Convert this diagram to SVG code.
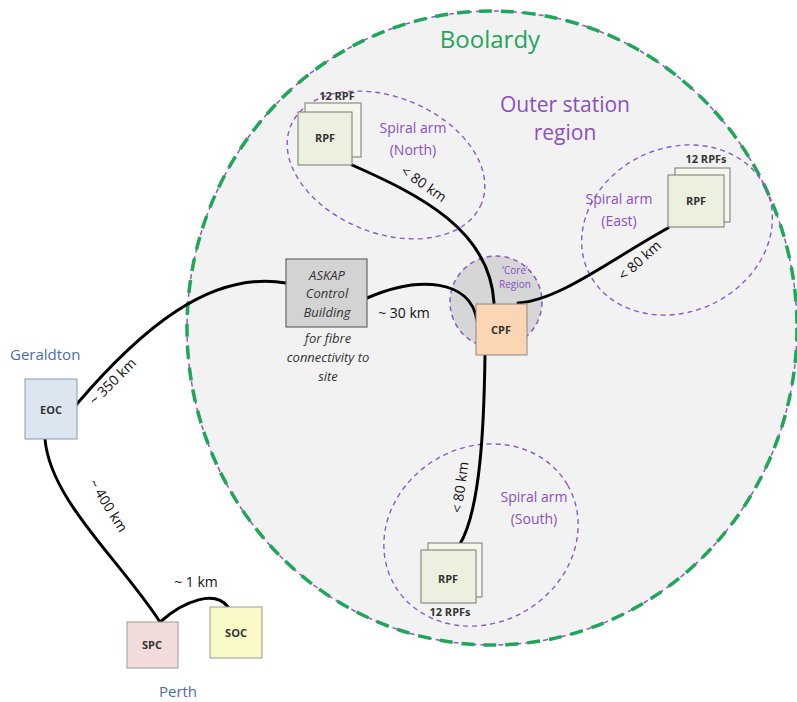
<svg xmlns="http://www.w3.org/2000/svg" width="797" height="702" viewBox="0 0 797 702">
  <style>
    .lbl { font-family: "Liberation Sans", "Open Sans", sans-serif; fill: #222; }
    .box-t { font-family: "Open Sans", "Liberation Sans", sans-serif; font-size: 11px; font-weight: bold; fill: #333; text-anchor: middle; }
    .arm { fill: none; stroke: #8a5cc0; stroke-width: 1.4; stroke-dasharray: 5 4; }
    .purple { font-family: "Open Sans", "Liberation Sans", sans-serif; fill: #8a4fc0; text-anchor: middle; }
    .link { fill: none; stroke: #000; stroke-width: 3; stroke-linecap: round; }
    .dist { font-family: "Open Sans", "Liberation Sans", sans-serif; font-size: 14px; fill: #111; text-anchor: middle; }
    .rpf-back { fill: #f4f6ea; stroke: #777; stroke-width: 1; }
    .rpf-front { fill: #ebf1de; stroke: #777; stroke-width: 1; }
    .city { font-family: "Open Sans", "Liberation Sans", sans-serif; font-size: 15px; fill: #4a6db3; }
  </style>
  <rect width="797" height="702" fill="#ffffff"/>

  <!-- Boolardy site boundary -->
  <g id="boolardy">
    <ellipse cx="492" cy="328" rx="305" ry="317" fill="#f2f2f2"/>
    <ellipse cx="492" cy="328" rx="305" ry="317" fill="none" stroke="#8a5cc0" stroke-width="1.5" stroke-dasharray="5 4"/>
    <ellipse cx="492" cy="328" rx="305" ry="317" fill="none" stroke="#1fa65a" stroke-width="3.5" stroke-dasharray="13 9"/>
    <text x="490" y="48" font-family="Open Sans, Liberation Sans, sans-serif" font-size="24" fill="#1fa65a" text-anchor="middle">Boolardy</text>
    <text x="565" y="112" class="purple" font-size="21">Outer station</text>
    <text x="565" y="140" class="purple" font-size="21">region</text>
  </g>

  <!-- Spiral arm regions -->
  <g id="arm-north">
    <ellipse cx="386" cy="165" rx="103" ry="68" transform="rotate(22 386 165)" class="arm"/>
    <text x="413" y="133" class="purple" font-size="14">Spiral arm</text>
    <text x="413" y="155" class="purple" font-size="14">(North)</text>
  </g>
  <g id="arm-east">
    <ellipse cx="677" cy="230" rx="98" ry="82" transform="rotate(-25 677 230)" class="arm"/>
    <text x="619" y="204" class="purple" font-size="14">Spiral arm</text>
    <text x="619" y="226" class="purple" font-size="14">(East)</text>
  </g>
  <g id="arm-south">
    <ellipse cx="481" cy="535" rx="100" ry="88" transform="rotate(-30 481 535)" class="arm"/>
    <text x="534" y="502" class="purple" font-size="14">Spiral arm</text>
    <text x="534" y="524" class="purple" font-size="14">(South)</text>
  </g>

  <!-- Core region -->
  <g id="core">
    <circle cx="496" cy="302" r="46" fill="#d6d6d6" stroke="#8a5cc0" stroke-width="1.5" stroke-dasharray="5 4"/>
    <text x="515" y="274" class="purple" font-size="10">‘Core’</text>
    <text x="515" y="288" class="purple" font-size="10">Region</text>
  </g>

  <!-- Fibre links -->
  <g id="connectors">
    <path class="link" d="M352 165 C 420 195, 490 230, 494 303"/>
    <path class="link" d="M668 228 C 610 260, 560 300, 518 303"/>
    <path class="link" d="M367 298 C 420 275, 470 280, 477 320"/>
    <path class="link" d="M76 405 C 140 330, 210 270, 286 283"/>
    <path class="link" d="M485 355 C 484 430, 480 510, 460 544"/>
    <path class="link" d="M45 439 C 50 500, 120 560, 160 622"/>
    <path class="link" d="M160 622 C 185 600, 215 590, 228 607"/>
    <text class="dist" transform="translate(421 188) rotate(35)">&lt; 80 km</text>
    <text class="dist" transform="translate(643 264) rotate(-42)">&lt; 80 km</text>
    <text class="dist" transform="translate(465 488) rotate(-82)">&lt; 80 km</text>
    <text class="dist" x="404" y="318">~ 30 km</text>
    <text class="dist" transform="translate(116 385) rotate(-45)">~ 350 km</text>
    <text class="dist" transform="translate(104 508) rotate(58)">~ 400 km</text>
    <text class="dist" x="196" y="587">~ 1 km</text>
  </g>

  <!-- Remote processing facilities -->
  <g id="rpf-north">
    <rect x="305" y="103" width="56" height="54" class="rpf-back"/>
    <rect x="298" y="112" width="54" height="53" class="rpf-front"/>
    <text x="325" y="142" class="box-t">RPF</text>
    <text x="337" y="100" class="box-t">12 RPF</text>
  </g>
  <g id="rpf-east">
    <rect x="675" y="168" width="55" height="54" class="rpf-back"/>
    <rect x="668" y="175" width="56" height="52" class="rpf-front"/>
    <text x="696" y="205" class="box-t">RPF</text>
    <text x="706" y="163" class="box-t">12 RPFs</text>
  </g>
  <g id="rpf-south">
    <rect x="428" y="543" width="54" height="54" class="rpf-back"/>
    <rect x="421" y="550" width="55" height="53" class="rpf-front"/>
    <text x="448" y="583" class="box-t">RPF</text>
    <text x="450" y="616" class="box-t">12 RPFs</text>
  </g>

  <!-- Central processing facility -->
  <g id="cpf">
    <rect x="476" y="304" width="51" height="51" fill="#fcd5b4" stroke="#888" stroke-width="1"/>
    <text x="501" y="334" class="box-t">CPF</text>
  </g>

  <!-- ASKAP control building -->
  <g id="askap">
    <rect x="286" y="259" width="81" height="68" fill="#d3d3d3" stroke="#666" stroke-width="1.2"/>
    <g font-family="Open Sans, Liberation Sans, sans-serif" font-size="13" font-style="italic" fill="#333" text-anchor="middle">
      <text x="327" y="280">ASKAP</text>
      <text x="327" y="298">Control</text>
      <text x="327" y="317">Building</text>
      <text x="328" y="343">for fibre</text>
      <text x="328" y="362">connectivity to</text>
      <text x="328" y="381">site</text>
    </g>
  </g>

  <!-- Operations centres -->
  <g id="eoc">
    <text x="10" y="360" class="city">Geraldton</text>
    <rect x="25" y="379" width="52" height="60" fill="#dce6f1" stroke="#8a9ab0" stroke-width="1"/>
    <text x="51" y="414" class="box-t">EOC</text>
  </g>
  <g id="spc">
    <rect x="127" y="622" width="51" height="46" fill="#f2dcdb" stroke="#999" stroke-width="1"/>
    <text x="152" y="649" class="box-t">SPC</text>
    <text x="178" y="697" class="city" text-anchor="middle">Perth</text>
  </g>
  <g id="soc">
    <rect x="210" y="607" width="52" height="51" fill="#fafac8" stroke="#999" stroke-width="1"/>
    <text x="236" y="637" class="box-t">SOC</text>
  </g>
</svg>
